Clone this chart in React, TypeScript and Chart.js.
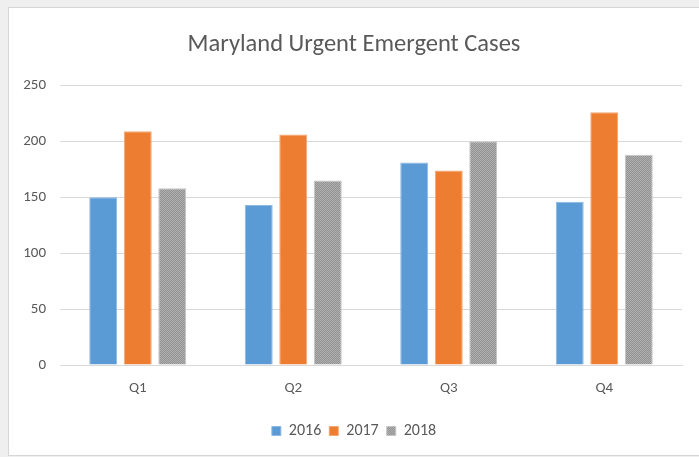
import React, { useEffect, useRef } from "react";
import { Chart, registerables } from "chart.js";

Chart.register(...registerables);

const TITLE = "Maryland Urgent Emergent Cases";
const categories = ["Q1", "Q2", "Q3", "Q4"];
const seriesNames = ["2016", "2017", "2018"];
const values2016 = [150, 143, 181, 146];
const values2017 = [209, 206, 174, 226];
const values2018 = [158, 165, 200, 188];
const yTicks = [0, 50, 100, 150, 200, 250];

const FONT = "Carlito, 'Liberation Sans Narrow', 'Open Sans', sans-serif";

function makeGrayPattern(): CanvasPattern | string {
  const c = document.createElement("canvas");
  c.width = 2;
  c.height = 2;
  const ctx = c.getContext("2d");
  if (!ctx) return "#a5a5a5";
  ctx.fillStyle = "#b0b0b0";
  ctx.fillRect(0, 0, 2, 2);
  ctx.fillStyle = "#929292";
  ctx.fillRect(0, 0, 1, 1);
  ctx.fillRect(1, 1, 1, 1);
  const p = ctx.createPattern(c, "repeat");
  return p || "#a5a5a5";
}

export default function App() {
  const ref = useRef<HTMLCanvasElement>(null);
  useEffect(() => {
    if (!ref.current) return;
    const gray = makeGrayPattern();
    const chart = new Chart(ref.current, {
      type: "bar",
      data: {
        labels: categories,
        datasets: [
          { label: seriesNames[0], data: values2016, backgroundColor: "#5b9bd5", borderColor: "#8cb8e3", borderWidth: 1 },
          { label: seriesNames[1], data: values2017, backgroundColor: "#ed7d31", borderColor: "#f3a673", borderWidth: 1 },
          { label: seriesNames[2], data: values2018, backgroundColor: gray as any, borderColor: "#c4c4c4", borderWidth: 1 },
        ],
      },
      options: {
        animation: false,
        responsive: false,
        maintainAspectRatio: false,
        layout: { padding: { left: 0, right: 0, top: 0, bottom: 6 } },
        datasets: { bar: { categoryPercentage: 0.666, barPercentage: 0.81 } },
        plugins: {
          title: {
            display: true,
            text: TITLE,
            color: "#595959",
            font: { family: FONT, size: 24.5, weight: "normal" },
            padding: { top: 22, bottom: 26 },
          },
          legend: {
            position: "bottom",
            labels: {
              boxWidth: 9,
              boxHeight: 9,
              color: "#595959",
              padding: 8,
              font: { family: FONT, size: 16 },
            },
          },
          tooltip: { enabled: false },
        },
        scales: {
          x: {
            grid: { display: false, drawTicks: false },
            border: { display: true, color: "#d9d9d9" },
            ticks: { color: "#595959", padding: 14, font: { family: FONT, size: 15 } },
            afterFit: (s: any) => { s.height = 50; },
          },
          y: {
            min: 0,
            max: 250,
            afterBuildTicks: (s: any) => { s.ticks = yTicks.map((v) => ({ value: v })); },
            grid: { color: "#d9d9d9", drawTicks: false },
            border: { display: false },
            ticks: { color: "#595959", padding: 14, font: { family: FONT, size: 15 } },
            afterFit: (s: any) => { s.width = 51; },
          },
          yRightSpacer: {
            type: "linear",
            position: "right",
            display: true,
            grid: { display: false, drawTicks: false },
            border: { display: false },
            ticks: { display: false },
            afterFit: (s: any) => { s.width = 17; },
          },
        },
      },
    });
    return () => chart.destroy();
  }, []);
  return (
    <div style={{ position: "fixed", left: 0, top: 0, width: 699, height: 457, background: "#efefef", overflow: "hidden" }}>
      <div style={{ position: "absolute", left: 8, top: 7, width: 700, height: 447, background: "#ffffff", border: "1px solid #d6d6d6" }}>
        <canvas ref={ref} width={690} height={447} style={{ display: "block" }} />
      </div>
    </div>
  );
}
